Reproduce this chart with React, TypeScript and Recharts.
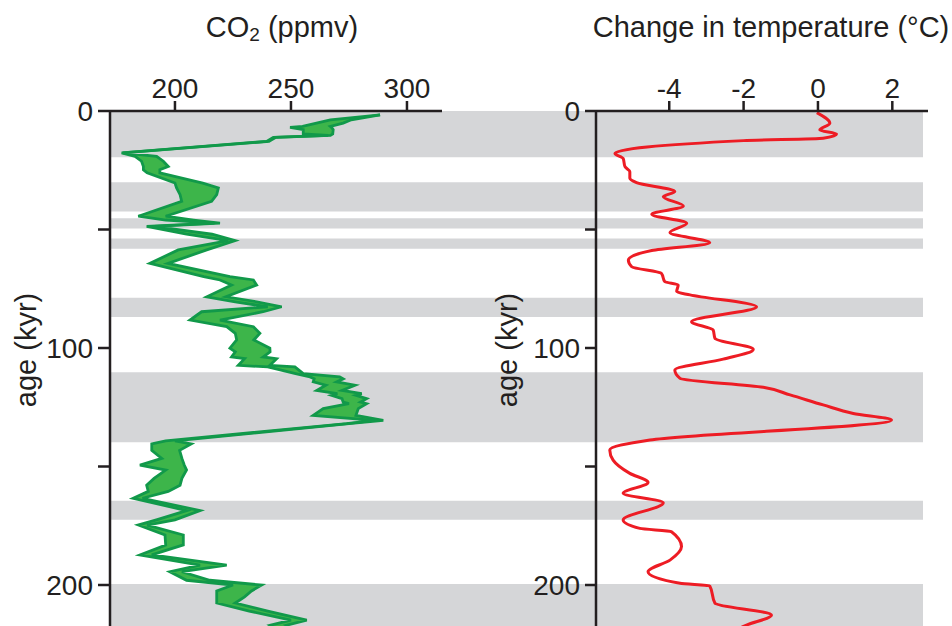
import { Area, ComposedChart, Line, ReferenceArea, XAxis, YAxis } from 'recharts'

const W = 952
const H = 626
const FONT = '"Liberation Sans", Arial, Helvetica, sans-serif'
const INK = '#231f20'

// age axis (kyr before present), runs downward
const AGE_MAX = 217.3
const ageTicks = [0, 50, 100, 150, 200]

// grey shading intervals (kyr)
const bandStart = [0, 30.1, 45.3, 53.8, 78.8, 110.2, 164.4, 199.6]
const bandEnd = [19.5, 42.4, 49.6, 58.1, 86.9, 139.8, 172.5, 230]

// CO2 envelope (ppmv): lower / upper edge at each age
const co2Ticks = [200, 250, 300]
const co2Age = [
  1.6, 3.7, 5.1, 6.5, 6.9, 7.9, 9.7, 10.3, 11.1, 12.8,
  17.7, 19.1, 21.2, 23.4, 24.8, 26.1, 30.4, 32.5, 35.3, 38.1,
  44.4, 46.0, 47.3, 48.7, 52.0, 54.7, 58.6, 64.3, 69.9, 71.3,
  73.4, 78.4, 80.5, 82.6, 84.7, 88.2, 91.0, 93.8, 96.6, 100.1,
  101.6, 103.8, 104.5, 107.3, 108.0, 110.8, 112.2, 113.0, 114.3, 115.7,
  117.9, 119.3, 120.0, 121.4, 122.8, 123.5, 125.6, 128.4, 130.5, 131.9,
  139.2, 140.5, 143.2, 146.6, 149.4, 151.5, 155.0, 157.9, 160.5, 163.4,
  168.6, 172.5, 174.7, 178.9, 183.1, 187.3, 191.6, 194.4, 198.0, 200.0,
  202.5, 205.0, 207.6, 211.0, 214.8, 217.0, 222.0,
]
const co2Low = [
  288.4, 267, 261, 255, 249.6, 255.3, 255.3, 266, 242.4, 239.5,
  177, 182.8, 185.6, 186.4, 186.4, 188, 200, 200.7, 202.2, 202.9,
  184.2, 196, 217, 187.8, 205, 223, 201.4, 189.2, 212.4, 219.4,
  224.4, 213.7, 226, 240, 211.5, 206.5, 222.3, 226, 226.6, 223.7,
  226, 224.4, 230, 227.3, 240, 252, 258.2, 260, 259.6, 265,
  261.1, 270, 267.5, 272, 272.5, 275, 263.9, 259.6, 286, 274,
  196, 190, 190, 194.3, 184.9, 196, 191, 187.8, 188.5, 182,
  205, 192, 184.2, 195.7, 196, 184.9, 210.8, 197.8, 205, 225,
  218, 218, 218, 232, 250, 241, 250,
]
const co2High = [
  288.4, 276, 272.5, 267, 267.5, 268.2, 268, 267, 243.5, 240.5,
  177.5, 192.1, 195, 197.1, 193.5, 193.5, 212, 218.7, 218, 215.8,
  196, 208, 219.4, 191, 216, 225.9, 213.7, 197, 223.7, 233.8,
  235.2, 222, 235.2, 246, 238, 219.4, 233.8, 236.6, 234, 240.9,
  241, 238, 243.8, 240.9, 251.7, 255.3, 271, 272.5, 269.7, 277.6,
  272, 280.5, 278, 282.6, 280, 282.6, 279, 278, 289.8, 275,
  200, 207, 202, 203, 204, 205, 203, 202.2, 197.1, 186,
  210.8, 200, 188, 203.6, 203.6, 190, 222.3, 203, 215, 237.4,
  233, 230, 226, 240, 256.8, 248, 256,
]

// temperature change (°C)
const tempTicks = [-4, -2, 0, 2]
const tempAge = [
  0.7, 5.2, 8.0, 9.7, 11.5, 12.5, 17.9, 20.0, 23.5, 25.6,
  28.4, 30.2, 34.0, 36.2, 40.1, 43.6, 47.4, 51.3, 55.6, 58.9,
  62.9, 65.7, 68.5, 72.0, 73.4, 76.2, 77.6, 82.6, 88.9, 92.4,
  95.9, 100.6, 104.7, 109.3, 112.8, 116.6, 119.8, 124.0, 127.6, 130.4,
  138.8, 143.0, 147.3, 152.9, 156.7, 161.3, 165.3, 172.6, 176.1, 177.5,
  183.8, 189.5, 194.4, 199.3, 200.4, 207.7, 212.7, 216.9, 222.0,
]
const tempValue = [
  -0.03, 0.32, 0.05, 0.5, 0.14, -2.0, -5.46, -5.24, -5.19, -5.06,
  -5.06, -4.88, -3.85, -4.16, -3.62, -4.47, -3.53, -3.98, -2.91, -4.47,
  -5.1, -5.01, -4.21, -4.12, -3.76, -3.8, -3.44, -1.65, -3.4, -2.82,
  -2.77, -1.74, -2.55, -3.85, -3.71, -1.47, -0.75, 0.14, 0.95, 1.98,
  -4.52, -5.6, -5.51, -5.06, -4.57, -5.24, -4.16, -5.24, -4.79, -3.94,
  -3.67, -3.98, -4.57, -3.71, -2.91, -2.77, -1.25, -1.92, -2.6,
]

const bands = bandStart.map((y1, i) => ({ y1, y2: bandEnd[i] }))
const co2Data = co2Age.map((age, i) => ({ age, co2: [co2Low[i], co2High[i]] }))
const tempData = tempAge.map((age, i) => ({ age, temp: tempValue[i] }))

const axisStroke = { stroke: INK, strokeWidth: 2.5 }
const tickStyle = { fontSize: 28, fill: INK, fontFamily: FONT }
const ageLabel = (v: number) => (v % 100 === 0 ? String(v) : '')

const EMPTY = { x: 0, y: 0, width: 0, height: 0 }

function Co2Title({ viewBox }: any) {
  const vb = viewBox ?? EMPTY
  return (
    <text x={vb.x + vb.width / 2 + 6} y={vb.y + 37} textAnchor="middle" fontSize={29} fill={INK} fontFamily={FONT}>
      CO<tspan fontSize={19} dy={4}>2</tspan>
      <tspan dy={-4}> (ppmv)</tspan>
    </text>
  )
}

function TempTitle({ viewBox }: any) {
  const vb = viewBox ?? EMPTY
  return (
    <text x={vb.x + vb.width / 2 + 9} y={vb.y + 37} textAnchor="middle" fontSize={29} fill={INK} fontFamily={FONT}>
      Change in temperature (°C)
    </text>
  )
}

function AgeLabel({ viewBox, baseX }: any) {
  const vb = viewBox ?? EMPTY
  const x = vb.x + baseX
  const y = 350
  return (
    <text x={x} y={y} transform={`rotate(-90 ${x} ${y})`} textAnchor="middle" fontSize={29} fill={INK} fontFamily={FONT}>
      age (kyr)
    </text>
  )
}

export default function App() {
  return (
    <div style={{ position: 'absolute', left: 0, top: 0, width: W, height: H, overflow: 'hidden', background: '#fff' }}>
      {/* shading behind both panels */}
      <div style={{ position: 'absolute', left: 0, top: 0 }}>
        <ComposedChart width={W} height={H} layout="vertical" data={tempData} margin={{ top: 111, right: 29, bottom: 0, left: 110 }}>
          <XAxis type="number" dataKey="temp" domain={[0, 1]} allowDataOverflow hide />
          <YAxis type="number" dataKey="age" domain={[0, AGE_MAX]} allowDataOverflow hide />
          {bands.map((b, i) => (
            <ReferenceArea
              key={i}
              x1={0}
              x2={1}
              y1={b.y1}
              y2={Math.min(b.y2, AGE_MAX)}
              fill="#d5d6d8"
              fillOpacity={1}
              stroke="none"
              ifOverflow="visible"
            />
          ))}
        </ComposedChart>
      </div>

      {/* CO2 panel */}
      <div style={{ position: 'absolute', left: 0, top: 0 }}>
        <ComposedChart width={470} height={H} layout="vertical" data={co2Data} margin={{ top: 0, right: 28, bottom: 0, left: 0 }}>
          <XAxis
            type="number"
            orientation="top"
            height={111}
            domain={[172, 315.1]}
            allowDataOverflow
            ticks={co2Ticks}
            interval={0}
            tickSize={10}
            tickMargin={3}
            axisLine={axisStroke}
            tickLine={axisStroke}
            tick={tickStyle}
            label={<Co2Title />}
          />
          <YAxis
            type="number"
            dataKey="age"
            width={110}
            domain={[0, AGE_MAX]}
            allowDataOverflow
            ticks={ageTicks}
            interval={0}
            tickFormatter={ageLabel}
            tickSize={12}
            tickMargin={5}
            axisLine={axisStroke}
            tickLine={axisStroke}
            tick={tickStyle}
            label={<AgeLabel baseX={36} />}
          />
          <Area
            dataKey="co2"
            type="linear"
            fill="#3db54a"
            fillOpacity={1}
            stroke="#11994a"
            strokeWidth={2.8}
            dot={false}
            activeDot={false}
            isAnimationActive={false}
          />
        </ComposedChart>
      </div>

      {/* temperature panel */}
      <div style={{ position: 'absolute', left: 0, top: 0 }}>
        <ComposedChart width={W} height={H} layout="vertical" data={tempData} margin={{ top: 0, right: 24, bottom: 0, left: 486 }}>
          <XAxis
            type="number"
            orientation="top"
            height={111}
            domain={[-5.97, 2.96]}
            allowDataOverflow
            ticks={tempTicks}
            interval={0}
            tickSize={10}
            tickMargin={3}
            axisLine={axisStroke}
            tickLine={axisStroke}
            tick={tickStyle}
            label={<TempTitle />}
          />
          <YAxis
            type="number"
            dataKey="age"
            width={110}
            domain={[0, AGE_MAX]}
            allowDataOverflow
            ticks={ageTicks}
            interval={0}
            tickFormatter={ageLabel}
            tickSize={11}
            tickMargin={5}
            axisLine={axisStroke}
            tickLine={axisStroke}
            tick={tickStyle}
            label={<AgeLabel baseX={31} />}
          />
          <Line
            dataKey="temp"
            type="monotone"
            stroke="#ed1c24"
            strokeWidth={3}
            dot={false}
            activeDot={false}
            isAnimationActive={false}
          />
        </ComposedChart>
      </div>
    </div>
  )
}
